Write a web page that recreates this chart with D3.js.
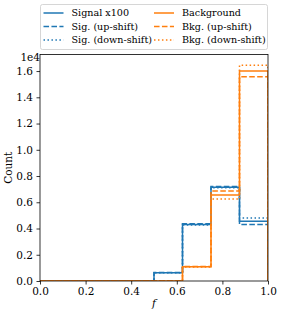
<!DOCTYPE html>
<html>
<head>
<meta charset="utf-8">
<title>Signal vs Background</title>
<style>
  body { margin: 0; background: #fff; }
  svg text { font-family: "DejaVu Serif", serif; fill: #000; }
</style>
</head>
<body>
<svg id="chart" width="282" height="315"></svg>
<script src="https://cdn.jsdelivr.net/npm/d3@7"></script>
<script>
// bin edges for f
const binEdges = [0, 0.125, 0.25, 0.375, 0.5, 0.625, 0.75, 0.875, 1.0];

// counts per bin (signal already scaled x100)
const signal   = [0, 0, 0, 0, 630, 4310, 7150, 4550];
const sigUp    = [0, 0, 0, 0, 640, 4370, 7200, 4300];
const sigDown  = [0, 0, 0, 0, 620, 4260, 7100, 4800];
const bkg      = [0, 0, 0, 0, 0, 1090, 6560, 16000];
const bkgUp    = [0, 0, 0, 0, 0, 1110, 6860, 15560];
const bkgDown  = [0, 0, 0, 0, 0, 1070, 6240, 16440];

const xTicks = [0, 0.2, 0.4, 0.6, 0.8, 1.0];
const yTicks = [0, 2000, 4000, 6000, 8000, 10000, 12000, 14000, 16000];

const blue = "#1f77b4", orange = "#ff7f0e";
const dashed = "5.55,2.4", dotted = "1.5,2.475";

const series = [
  { name: "Signal x100",        vals: signal,  color: blue,   dash: null },
  { name: "Sig. (up-shift)",    vals: sigUp,   color: blue,   dash: dashed },
  { name: "Sig. (down-shift)",  vals: sigDown, color: blue,   dash: dotted },
  { name: "Background",         vals: bkg,     color: orange, dash: null },
  { name: "Bkg. (up-shift)",    vals: bkgUp,   color: orange, dash: dashed },
  { name: "Bkg. (down-shift)",  vals: bkgDown, color: orange, dash: dotted }
];

const mLeft = 40, mRight = 268, mTop = 54.5, mBottom = 281;
const svg = d3.select("#chart");

const allMax = d3.max(series, s => d3.max(s.vals));
const x = d3.scaleLinear().domain([0, 1]).range([mLeft, mRight]);
const y = d3.scaleLinear().domain([0, allMax * 1.05]).range([mBottom, mTop]);

svg.append("clipPath").attr("id", "clip")
  .append("rect").attr("x", mLeft).attr("y", mTop)
  .attr("width", mRight - mLeft).attr("height", mBottom - mTop);

// step outlines
const line = d3.line().x(d => x(d[0])).y(d => y(d[1]));
function stepPoints(vals) {
  const pts = [[binEdges[0], 0]];
  vals.forEach((v, i) => { pts.push([binEdges[i], v]); pts.push([binEdges[i + 1], v]); });
  pts.push([binEdges[binEdges.length - 1], 0]);
  return pts;
}

const plot = svg.append("g").attr("clip-path", "url(#clip)");
series.forEach(s => {
  plot.append("path")
    .attr("d", line(stepPoints(s.vals)))
    .attr("fill", "none")
    .attr("stroke", s.color)
    .attr("stroke-width", 1.5)
    .attr("stroke-dasharray", s.dash);
});

// axes
const fmtX = d3.format(".1f");
const xAxis = d3.axisBottom(x).tickValues(xTicks).tickFormat(fmtX)
  .tickSize(3.5).tickPadding(3.5);
const yAxis = d3.axisLeft(y).tickValues(yTicks).tickFormat(d => fmtX(d / 1e4))
  .tickSize(3.5).tickPadding(3.5);

const gx = svg.append("g").attr("transform", `translate(0,${mBottom})`).call(xAxis);
const gy = svg.append("g").attr("transform", `translate(${mLeft},0)`).call(yAxis);
[gx, gy].forEach(g => {
  g.select(".domain").remove();
  g.selectAll(".tick line").attr("stroke", "#000").attr("stroke-width", 0.8);
  g.selectAll(".tick text").attr("font-size", 10.5).attr("font-family", "DejaVu Serif");
});

svg.append("rect")
  .attr("x", mLeft).attr("y", mTop)
  .attr("width", mRight - mLeft).attr("height", mBottom - mTop)
  .attr("fill", "none").attr("stroke", "#000").attr("stroke-width", 0.8);

svg.append("text").attr("x", mLeft).attr("y", mTop + 6.5)
  .attr("text-anchor", "end").attr("font-size", 10.5).text("1e4");

svg.append("text")
  .attr("transform", `translate(12,${(mTop + mBottom) / 2}) rotate(-90)`)
  .attr("text-anchor", "middle").attr("font-size", 10.5).text("Count");

svg.append("text")
  .attr("x", (mLeft + mRight) / 2).attr("y", 307)
  .attr("text-anchor", "middle").attr("font-size", 10.5)
  .attr("font-style", "italic").text("f");

// legend
const lg = svg.append("g");
lg.append("rect")
  .attr("x", 40.5).attr("y", 4.5).attr("width", 227).attr("height", 45)
  .attr("rx", 2).attr("fill", "#fff").attr("fill-opacity", 0.8)
  .attr("stroke", "#ccc").attr("stroke-width", 0.8);

const colX = [43.5, 154];
const rowY = [13, 26.5, 40];
series.forEach((s, i) => {
  const cx = colX[Math.floor(i / 3)], cy = rowY[i % 3];
  lg.append("line")
    .attr("x1", cx).attr("x2", cx + 20).attr("y1", cy).attr("y2", cy)
    .attr("stroke", s.color).attr("stroke-width", 1.5)
    .attr("stroke-dasharray", s.dash);
  lg.append("text")
    .attr("x", cx + 28).attr("y", cy).attr("dy", "0.35em")
    .attr("font-size", 9.6).text(s.name);
});
</script>
</body>
</html>
